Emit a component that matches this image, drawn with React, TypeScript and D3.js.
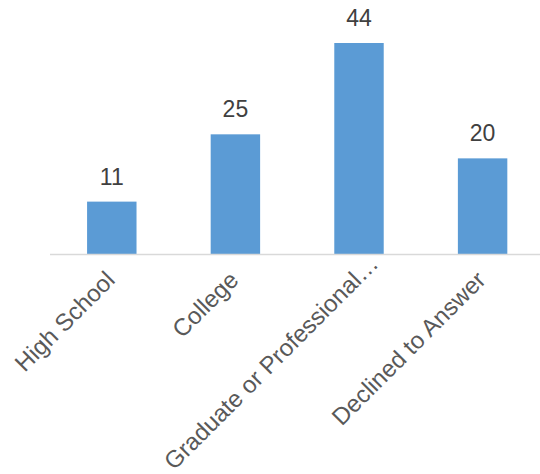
import React, { useLayoutEffect, useRef, useState } from "react";
import * as d3 from "d3";

const categories = ["High School", "College", "Graduate or Professional…", "Declined to Answer"];
const values = [11, 25, 44, 20];

const W = 540;
const H = 474;
const axisY = 254.5;
const S = Math.SQRT1_2;

export default function App() {
  const x = d3
    .scaleBand<string>()
    .domain(categories)
    .range([50, 544.4])
    .paddingInner(0.6)
    .paddingOuter(0.3);
  const y = d3.scaleLinear().domain([0, 44]).range([axisY, 43]);

  const refs = useRef<(SVGTextElement | null)[]>([]);
  const [shifts, setShifts] = useState<number[]>(categories.map(() => 0));

  useLayoutEffect(() => {
    const next = categories.map((c, i) => {
      const el = refs.current[i];
      if (!el) return 0;
      const len = el.getComputedTextLength();
      const startY = axisY + 27 + len * S;
      const limit = H - 3;
      return startY > limit ? (startY - limit) / S : 0;
    });
    setShifts(next);
  }, []);

  return (
    <svg
      width={W}
      height={H}
      style={{ position: "absolute", left: 0, top: 0, background: "#fff" }}
      fontFamily="'Liberation Sans', Arial, sans-serif"
    >
      {categories.map((c, i) => (
        <rect
          key={c}
          x={x(c)!}
          y={y(values[i])}
          width={x.bandwidth()}
          height={y(0) - y(values[i])}
          fill="#5B9BD5"
        />
      ))}
      <line x1={50} x2={W} y1={axisY} y2={axisY} stroke="#D9D9D9" strokeWidth={1.5} />
      {categories.map((c, i) => (
        <text
          key={"v" + c}
          x={x(c)! + x.bandwidth() / 2}
          y={y(values[i]) - 17}
          textAnchor="middle"
          fontSize={23}
          fill="#404040"
        >
          {values[i]}
        </text>
      ))}
      {categories.map((c, i) => {
        const cx = x(c)! + x.bandwidth() / 2;
        const sh = shifts[i];
        return (
          <text
            key={"c" + c}
            ref={(el) => {
              refs.current[i] = el;
            }}
            transform={`translate(${cx + 4.5 + sh * S},${axisY + 27 - sh * S}) rotate(-45)`}
            textAnchor="end"
            fontSize={24}
            fill="#595959"
          >
            {c}
          </text>
        );
      })}
    </svg>
  );
}
